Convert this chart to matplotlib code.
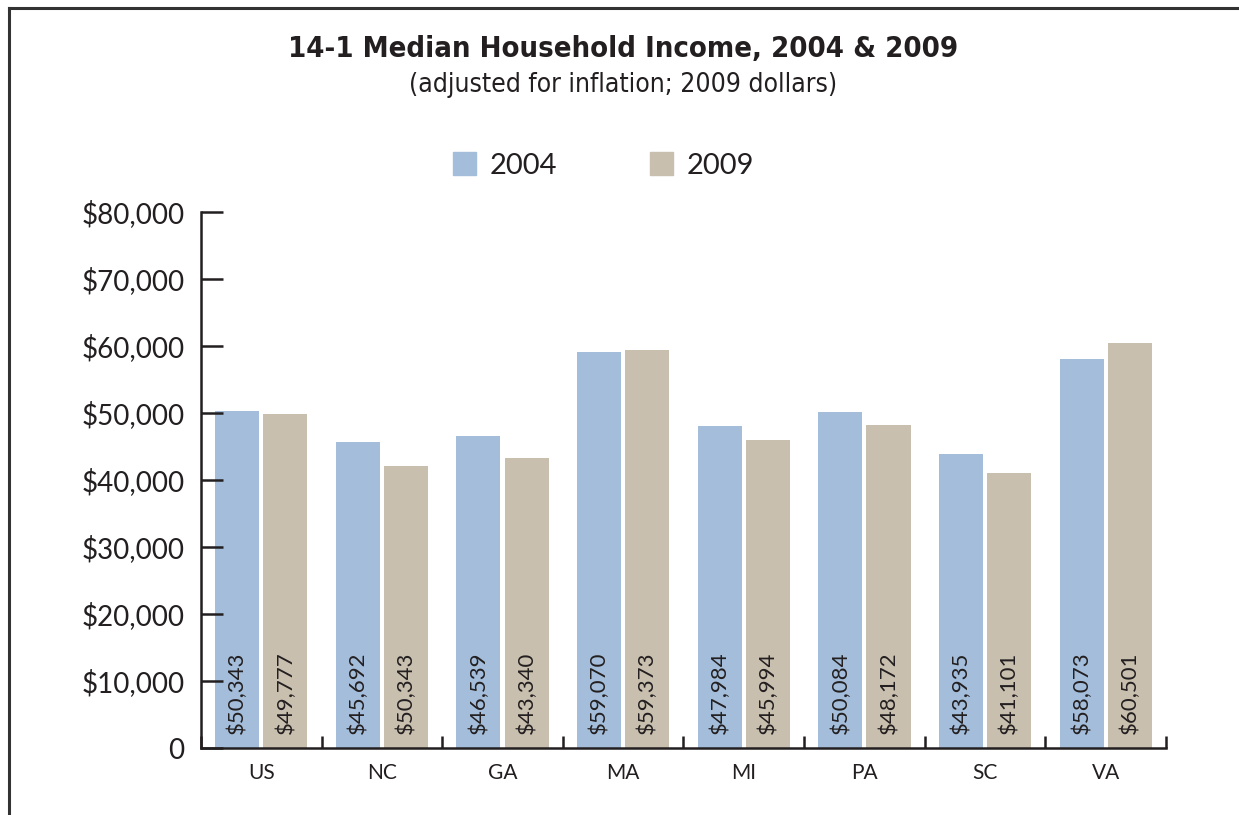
import matplotlib.pyplot as plt
import numpy as np
from matplotlib.ticker import FuncFormatter, FixedLocator
from matplotlib.lines import Line2D
from matplotlib.patches import Patch

# Median household income by state, 2009 dollars
states = ["US", "NC", "GA", "MA", "MI", "PA", "SC", "VA"]
income_2004 = [50343, 45692, 46539, 59070, 47984, 50084, 43935, 58073]
income_2009 = [49777, 42100, 43340, 59373, 45994, 48172, 41101, 60501]
# printed labels (NC 2009 label is as published)
labels_2004 = ["$50,343", "$45,692", "$46,539", "$59,070", "$47,984", "$50,084", "$43,935", "$58,073"]
labels_2009 = ["$49,777", "$50,343", "$43,340", "$59,373", "$45,994", "$48,172", "$41,101", "$60,501"]

color_2004 = "#A3BDDA"
color_2009 = "#C8BFAE"
ink = "#231F20"

plt.rcParams["font.family"] = ["Lato", "DejaVu Sans"]

fig = plt.figure(figsize=(12.39, 8.15), dpi=100)
ax = fig.add_axes([0.1622, 0.0822, 0.7789, 0.6577])

x = np.arange(len(states))
w = 0.365
gap = 0.017
ax.bar(x - w / 2 - gap, income_2004, width=w, color=color_2004)
ax.bar(x + w / 2 + gap, income_2009, width=w, color=color_2009)

for i in range(len(states)):
    for dx, lab in ((-w / 2 - gap, labels_2004[i]), (w / 2 + gap, labels_2009[i])):
        ax.annotate(lab, (x[i] + dx, 0), xytext=(0, 10), textcoords="offset points",
                    rotation=90, ha="center", va="bottom", fontsize=16, color=ink)

ax.set_xlim(-0.5, len(states) - 0.5)
ax.set_ylim(0, 80000)
ax.yaxis.set_major_locator(FixedLocator(np.arange(0, 80001, 10000)))
ax.yaxis.set_major_formatter(FuncFormatter(lambda v, p: "0" if v == 0 else f"${v:,.0f}"))
ax.set_xticks(x)
ax.set_xticklabels(states)
ax.xaxis.set_minor_locator(FixedLocator(np.arange(-0.5, len(states), 1.0)))

for s in ("top", "right"):
    ax.spines[s].set_visible(False)
for s in ("left", "bottom"):
    ax.spines[s].set_linewidth(1.8)
    ax.spines[s].set_color(ink)

ax.tick_params(axis="y", direction="in", length=16, width=1.8, color=ink,
               labelsize=20, labelcolor=ink, pad=12)
ax.tick_params(axis="x", which="major", length=0, labelsize=15, labelcolor=ink, pad=11)
ax.tick_params(axis="x", which="minor", direction="in", length=9, width=1.8, color=ink)

# titles
title_font = dict(family="DejaVu Sans", stretch="condensed", color=ink)
fig.text(0.503, 0.940, "14-1 Median Household Income, 2004 & 2009", ha="center", va="center",
         fontsize=21, weight="bold", **title_font)
fig.text(0.503, 0.896, "(adjusted for inflation; 2009 dollars)", ha="center", va="center",
         fontsize=19, **title_font)

handles = [Patch(color=color_2004), Patch(color=color_2009)]
fig.legend(handles, ["2004", "2009"], loc="center", bbox_to_anchor=(0.487, 0.797), ncol=2,
           frameon=False, fontsize=21, handlelength=0.8, handleheight=0.8,
           handletextpad=0.45, columnspacing=3.2, labelcolor=ink)

# outer frame
frame = dict(color="#333333", linewidth=2.2, transform=fig.transFigure)
fig.add_artist(Line2D([0.0075, 0.0075], [-0.01, 0.99], **frame))
fig.add_artist(Line2D([0.0075, 1.01], [0.99, 0.99], **frame))

fig.savefig("out.png", dpi=100)
